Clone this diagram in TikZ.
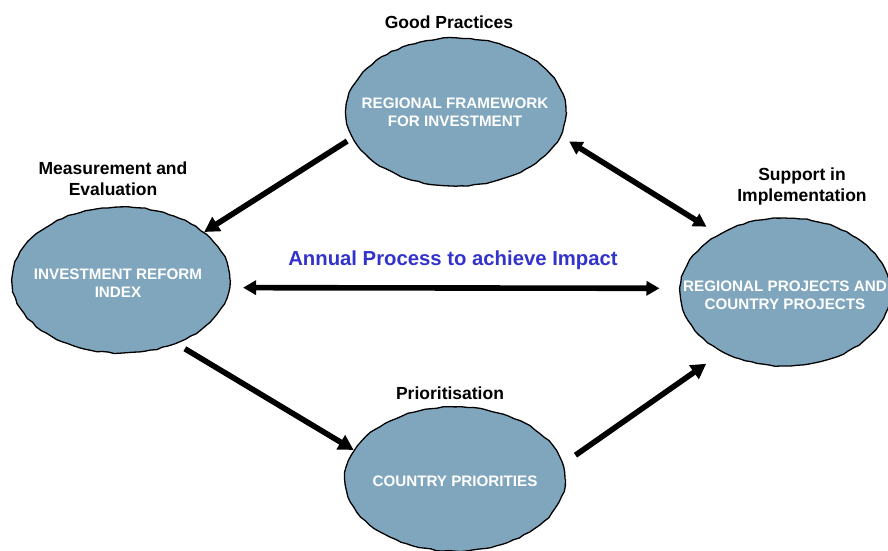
\documentclass[tikz,border=0pt]{standalone}
\usepackage{fontspec}
\setmainfont{Liberation Sans}
\usetikzlibrary{shapes.geometric,arrows.meta,decorations.pathmorphing}
\definecolor{bubfill}{RGB}{128,166,190}
\definecolor{titleblue}{RGB}{51,51,204}
\begin{document}
\begin{tikzpicture}[x=1pt,y=-1pt,
  bub/.style={ellipse, draw=black, line width=1.3pt, fill=bubfill, inner sep=0pt,
    decorate, decoration={random steps, segment length=6pt, amplitude=0.6pt}},
  bubtext/.style={text=white, font=\bfseries\fontsize{15.2}{18}\selectfont, align=center, inner sep=0pt},
  lab/.style={font=\bfseries\fontsize{17.5}{21}\selectfont, align=center, inner sep=0pt},
  conn/.style={line width=5.6pt, -{Triangle[length=15pt,width=16pt]}},
  dconn/.style={line width=5.6pt, {Triangle[length=13pt,width=14pt]}-{Triangle[length=13pt,width=14pt]}}]
\pgfmathsetseed{7}
\useasboundingbox (0,0) rectangle (888,550);
\begin{scope}
\clip (0,0) rectangle (888,550);
\node[bub, minimum width=220pt, minimum height=148pt] (top) at (456,112) {};
\node[bub, minimum width=218pt, minimum height=146pt] (left) at (121,280) {};
\node[bub, minimum width=210pt, minimum height=148pt] (right) at (785,292) {};
\node[bub, minimum width=220pt, minimum height=144pt] (bottom) at (455,479) {};
\end{scope}
\node[bubtext] (toptext) at (455,112) {REGIONAL FRAMEWORK\\FOR INVESTMENT};
\node[bubtext] (lefttext) at (118,283) {INVESTMENT REFORM\\INDEX};
\node[bubtext] (righttext) at (785,295) {REGIONAL PROJECTS AND\\COUNTRY PROJECTS};
\node[bubtext] (bottomtext) at (455,481) {COUNTRY PRIORITIES};
\node[lab] (goodlab) at (449,22) {Good Practices};
\node[lab] (measlab) at (113,179) {Measurement and\\Evaluation};
\node[lab] (supplab) at (802,186) {Support in\\Implementation};
\node[lab] (priolab) at (450,393) {Prioritisation};
\node[lab, text=titleblue, font=\bfseries\fontsize{20.3}{24}\selectfont] (annual) at (453,260) {Annual Process to achieve Impact};
\draw[conn, shorten <=6pt] (top.194) -- (left.30);
\draw[dconn, shorten <=10pt, shorten >=14pt] (top.-13) -- (right.139);
\draw[dconn, shorten <=13pt, shorten >=20pt] (left.-4) -- (right.178);
\draw[conn, shorten <=10pt] (left.-49) -- (bottom.164);
\draw[conn, shorten <=15pt, shorten >=20pt] (bottom.8) -- (right.224);
\end{tikzpicture}
\end{document}
